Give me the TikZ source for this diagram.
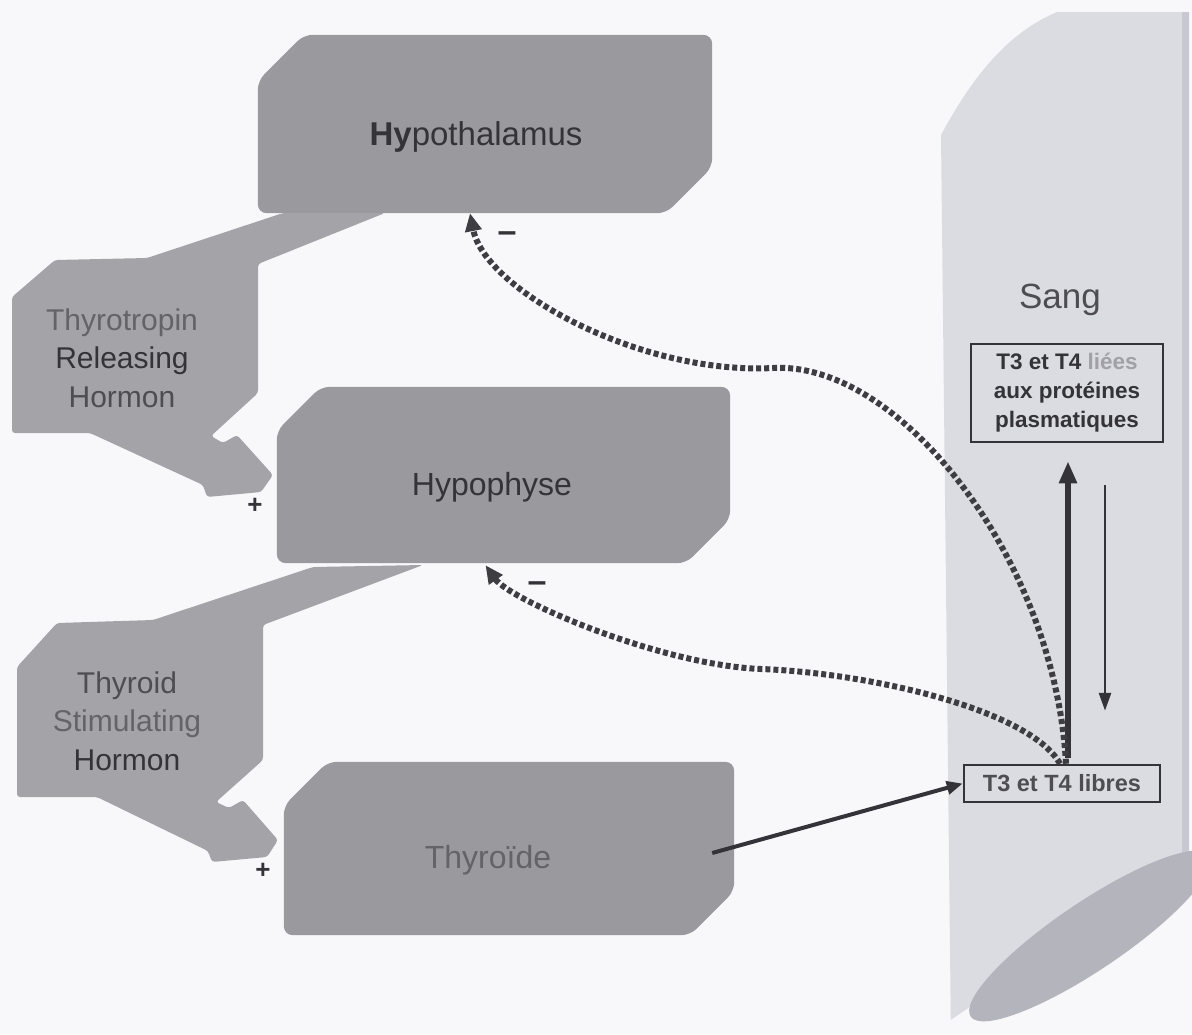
\documentclass[tikz,border=0pt]{standalone}
\usepackage{fontspec}
\setmainfont{Liberation Sans}
\usetikzlibrary{arrows.meta,calc}
\definecolor{bg}{RGB}{248,248,250}
\definecolor{boxgray}{RGB}{154,154,158}
\definecolor{callgray}{RGB}{164,164,168}
\definecolor{vessel}{RGB}{219,219,226}
\definecolor{vesseledge}{RGB}{200,200,208}
\definecolor{vesseldark}{RGB}{180,180,188}
\definecolor{txt}{RGB}{52,52,56}
\definecolor{txtmid}{RGB}{78,78,82}
\definecolor{txtlight}{RGB}{100,100,104}
\definecolor{faint}{RGB}{160,160,166}
\definecolor{dotcol}{RGB}{62,62,66}
\newcommand\bevelfill[3]{%
  \fill[#3, rounded corners=9pt] ([yshift=-#2]#1.north west) -- ([xshift=#2]#1.north west)
    -- (#1.north east) -- ([yshift=#2]#1.south east) -- ([xshift=-#2]#1.south east)
    -- (#1.south west) -- cycle;}
\tikzset{
  boxnode/.style={rectangle, draw=none, inner sep=0pt},
  bigtext/.style={font=\fontsize{33}{40}\selectfont, text=txt, inner sep=0pt},
  labtext/.style={font=\fontsize{30}{38.5}\selectfont, text=txt, align=center, inner sep=0pt},
  smallbox/.style={rectangle, draw=txt, line width=2.5pt, fill=vessel, inner sep=0pt, align=center, text=txt},
  feedback/.style={draw=dotcol, line width=6pt, dash pattern=on 5pt off 3pt, -{Triangle[length=18pt,width=16pt]}},
  solidarrow/.style={draw=txt, line width=4pt, -{Triangle[length=16pt,width=13pt]}},
  sign/.style={font=\bfseries\fontsize{26}{30}\selectfont, text=txt, inner sep=0pt},
}
\begin{document}
\begin{tikzpicture}[x=1pt,y=-1pt]
\fill[bg] (0,0) rectangle (1192,1034);
\useasboundingbox (0,0) rectangle (1192,1034);

% blood vessel
\begin{scope}
  \clip (915,1044) -- (1255,814) -- (1255,-10) -- (900,-10) -- (900,1044) -- cycle;
  \fill[vessel] (941,135) .. controls (975,72) and (1010,32) .. (1057,12) -- (1189,12) -- (1189,1040) -- (951,1040) -- cycle;
  \fill[vesseledge] (1182,12) rectangle (1189,1040);
\end{scope}
\begin{scope}
  \clip (900,0) rectangle (1192,1034);
  \fill[vesseldark, rotate around={34:(1090,936)}] (1090,936) ellipse [x radius=144pt, y radius=34pt];
\end{scope}

% main boxes
\node[boxnode, minimum width=454pt, minimum height=178pt] (hyp) at (485,124) {};
\node[boxnode, minimum width=453pt, minimum height=176pt] (pit) at (503.5,475) {};
\node[boxnode, minimum width=450pt, minimum height=173pt] (thy) at (509,848.5) {};
\bevelfill{hyp}{46pt}{boxgray}
\bevelfill{pit}{44pt}{boxgray}
\bevelfill{thy}{44pt}{boxgray}

% callouts
\fill[callgray, rounded corners=3pt] (283,213) -- (385,213) -- (258,264) -- (258,393) -- (211,436) -- (223,443) -- (237,435) -- (273,475) -- (261,492) -- (207,497) -- (203,485) -- (90,433) -- (12,433) -- (12,297) -- (55,260) -- (147,258) -- cycle;
\fill[callgray, rounded corners=3pt] (313,567) -- (423,565) -- (263,625) -- (263,760) -- (216,802) -- (229,808) -- (243,800) -- (278,840) -- (267,857) -- (212,862) -- (208,851) -- (97,797) -- (17,797) -- (17,667) -- (57,623) -- (153,620) -- cycle;

% texts in boxes
\node[bigtext] (hyptxt) at (476,137) {\textbf{Hy}pothalamus};
\node[bigtext, font=\fontsize{32}{40}\selectfont] (pittxt) at (492,487) {Hypophyse};
\node[bigtext, font=\fontsize{32}{40}\selectfont, text=txtlight] (thytxt) at (488,860) {Thyroïde};
\node[labtext] (trh) at (122,358) {{\color{txtlight}Thyrotropin}\\{\color{txt}Releasing}\\{\color{txtmid}Hormon}};
\node[labtext] (tsh) at (127,721) {{\color{txtmid}Thyroid}\\{\color{txtlight}Stimulating}\\{\color{txt}Hormon}};

% blood
\node[font=\fontsize{35}{40}\selectfont, text=txtmid, inner sep=0pt] (sang) at (1060,300) {Sang};
\node[smallbox, minimum width=192pt, minimum height=98pt, font=\bfseries\fontsize{22.5}{29}\selectfont] (lie) at (1067,393)
  {T3 et T4 {\color{faint}liées}\\aux protéines\\plasmatiques};
\node[smallbox, minimum width=196pt, minimum height=37pt, font=\bfseries\fontsize{23.5}{26}\selectfont, text=txtmid] (lib) at (1062,783.5) {T3 et T4 libres};

% arrows
\draw[solidarrow] ([xshift=-22pt,yshift=-4.5pt]thy.east) -- (lib.west);
\draw[draw=txt, line width=6pt, -{Triangle[length=22pt,width=17pt]}] ([xshift=6pt,yshift=6pt]lib.north) -- ([xshift=1pt,yshift=-18pt]lie.south);
\draw[draw=txt, line width=2.8pt, -{Triangle[length=18pt,width=12pt]}] ([xshift=38pt,yshift=-42pt]lie.south) -- ([xshift=43pt,yshift=53pt]lib.north);

\draw[feedback] ([xshift=4pt]lib.north) .. controls (1055,560) and (900,361) .. (773,368) .. controls (640,375) and (485,290) .. ([xshift=-15pt]hyp.south);
\draw[feedback] ([xshift=-2pt]lib.north) .. controls (1030,710) and (870,673) .. (761,669) .. controls (660,665) and (510,600) .. ([xshift=-18pt,yshift=-2pt]pit.south);

% signs
\node[sign] (p1) at (255,506) {+};
\node[sign] (p2) at (263,871) {+};
\node[sign, font=\bfseries\fontsize{34}{36}\selectfont] (m1) at (507,237) {–};
\node[sign, font=\bfseries\fontsize{34}{36}\selectfont] (m2) at (537,587) {–};
\end{tikzpicture}
\end{document}
